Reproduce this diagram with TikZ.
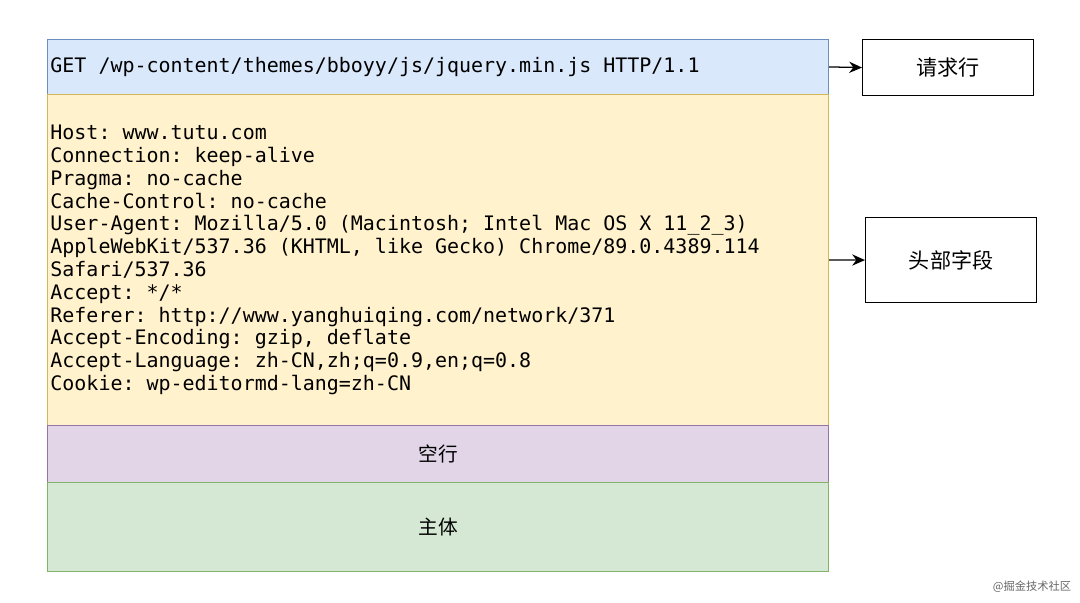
\documentclass[tikz,border=0pt]{standalone}
\usepackage{fontspec}
\setmonofont{DejaVu Sans Mono}
\newfontfamily\cjk{Noto Sans CJK SC}
\usetikzlibrary{arrows.meta,positioning}
\definecolor{reqfill}{HTML}{DAE8FC}
\definecolor{reqline}{HTML}{6C8EBF}
\definecolor{hdrfill}{HTML}{FFF2CC}
\definecolor{hdrline}{HTML}{D6B656}
\definecolor{emptyfill}{HTML}{E1D5E7}
\definecolor{emptyline}{HTML}{9673A6}
\definecolor{bodyfill}{HTML}{D5E8D4}
\definecolor{bodyline}{HTML}{82B366}
\newcommand\monotext{\ttfamily\fontsize{14.2}{16.2}\selectfont}
\tikzset{
	part/.style={draw, line width=0.6pt, anchor=north west, inner xsep=0.075cm,
		minimum width=19.525cm, text width=19.375cm},
	mono/.style={font=\monotext, align=flush left},
	label/.style={draw, line width=0.8pt, anchor=north west, align=center,
		font=\cjk\fontsize{15}{18}\selectfont},
	link/.style={-{Stealth[length=3.2mm,width=2.8mm]}, line width=0.9pt}
}
\begin{document}
\begin{tikzpicture}[x=0.025cm, y=-0.025cm]
		%%%%% START %%%%%
		\useasboundingbox (0, 0) rectangle (1080, 603);
		
		\node[part, mono, fill=reqfill, draw=reqline, minimum height=1.375cm] (reqrow) at (47, 39)
			{GET /wp-content/themes/bboyy/js/jquery.min.js HTTP/1.1};
		
		\node[part, mono, fill=hdrfill, draw=hdrline, minimum height=8.275cm] (headers) at (47, 94)
			{Host: www.tutu.com\\
			Connection: keep-alive\\
			Pragma: no-cache\\
			Cache-Control: no-cache\\
			User-Agent: Mozilla/5.0 (Macintosh; Intel Mac OS X 11\_2\_3)\\
			AppleWebKit/537.36 (KHTML, like Gecko) Chrome/89.0.4389.114\\
			Safari/537.36\\
			Accept: */*\\
			Referer: http://www.yanghuiqing.com/network/371\\
			Accept-Encoding: gzip, deflate\\
			Accept-Language: zh-CN,zh;q=0.9,en;q=0.8\\
			Cookie: wp-editormd-lang=zh-CN};
		
		\node[part, fill=emptyfill, draw=emptyline, minimum height=1.425cm, align=center,
			font=\cjk\fontsize{14}{17}\selectfont] (emptyrow) at (47, 425) {空行};
		
		\node[part, fill=bodyfill, draw=bodyline, minimum height=2.225cm, align=center,
			font=\cjk\fontsize{14}{17}\selectfont] (bodyrow) at (47, 482) {主体};
		
		\node[label, minimum width=4.275cm, minimum height=1.4cm] (reqlabel) at (862, 39) {请求行};
		\node[label, minimum width=4.275cm, minimum height=2.125cm] (hdrlabel) at (865, 217) {头部字段};
		
		\draw[link] (reqrow.east) -- (reqlabel.west);
		\draw[link] (headers.east) -- (hdrlabel.west);
		
		\node[text=black!60, font=\cjk\fontsize{8}{9}\selectfont, anchor=east] (mark) at (1076, 587) {@掘金技术社区};
		%%%%% END %%%%%
	\end{tikzpicture}
\end{document}
